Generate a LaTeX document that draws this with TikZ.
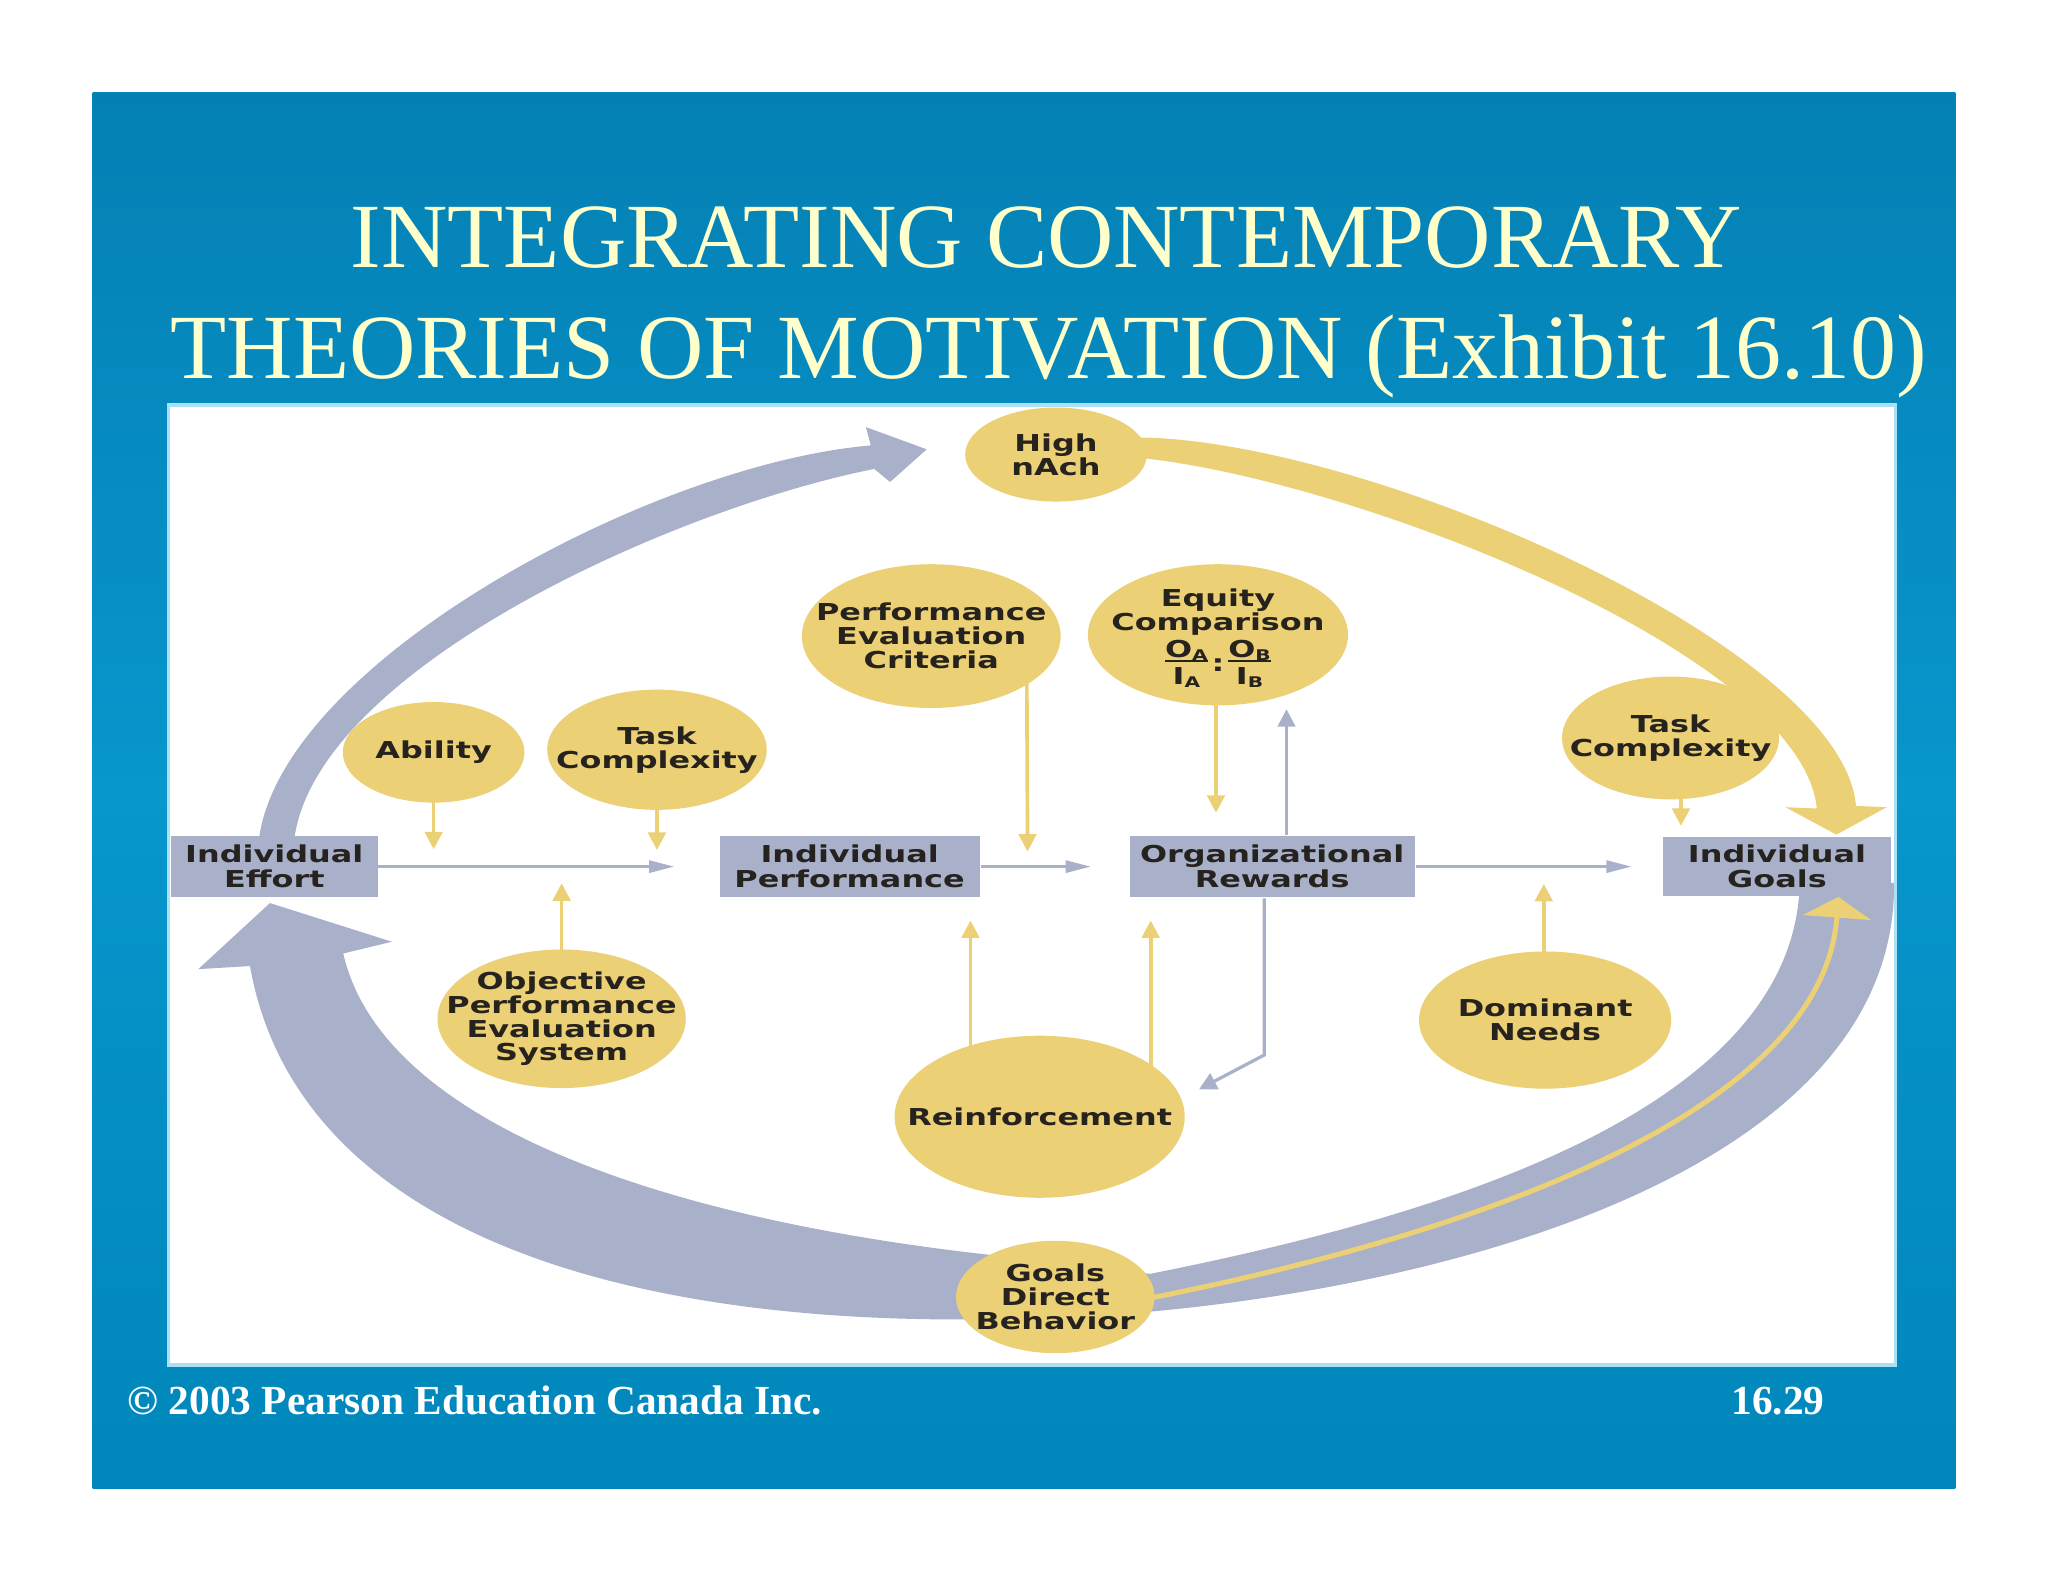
\documentclass[tikz,border=0pt]{standalone}
\usepackage{fontspec}
\setmainfont{Liberation Serif}
\newfontfamily\dfont{DejaVu Sans Bold}[FakeStretch=1.37]
\usetikzlibrary{shapes.geometric,arrows.meta,calc}
\definecolor{blueA}{RGB}{4,128,180}
\definecolor{blueB}{RGB}{8,150,204}
\definecolor{blueC}{RGB}{0,134,186}
\definecolor{titlecol}{RGB}{255,255,204}
\definecolor{yel}{RGB}{236,208,118}
\definecolor{gry}{RGB}{168,176,202}
\definecolor{txt}{RGB}{38,34,30}
\definecolor{paneledge}{RGB}{170,225,245}
\pgfdeclarelayer{back}
\pgfdeclarelayer{mid}
\pgfsetlayers{back,mid,main}
\newcommand{\subA}[1]{\raisebox{-0.6pt}{\fontsize{3.2}{3.2}\selectfont #1}}
\newcommand{\eqfrac}[1]{\begin{tabular}{@{}c@{}}O\subA{#1}\\[-0.9pt]\hline\noalign{\vskip1.1pt}I\subA{#1}\end{tabular}}
\begin{document}
\begin{tikzpicture}[x=0.01cm,y=-0.01cm,
  box/.style={fill=gry, inner sep=0pt, text=txt, font=\dfont\fontsize{5.07}{5.4}\selectfont, align=center},
  ell/.style={ellipse, fill=yel, inner sep=0pt},
  lab/.style={inner sep=0pt, text=txt, font=\dfont\fontsize{5.07}{5.2}\selectfont, align=center},
  garrh/.style={draw=gry, line width=0.7pt, -{Triangle[length=5.5pt,width=2.6pt]}},
  garrv/.style={draw=gry, line width=0.7pt, -{Triangle[length=3.8pt,width=3.8pt]}},
  yarr/.style={draw=yel, line width=0.8pt, -{Triangle[length=3.8pt,width=3.8pt]}},
]
\useasboundingbox (0,0) rectangle (1568,1211);

\begin{pgfonlayer}{back}
\fill[white] (0,0) rectangle (1568,1211);
\shade[top color=blueA, bottom color=blueC, middle color=blueB] (71,71) rectangle (1497,1140);
\fill[white, draw=paneledge, line width=0.7pt] (129,310) rectangle (1451,1045);
\end{pgfonlayer}

% titles and footer
\node[anchor=base, text=titlecol, font=\fontsize{20}{24}\selectfont, inner sep=0pt] (t1) at (801,205) {INTEGRATING CONTEMPORARY};
\node[anchor=base, text=titlecol, font=\fontsize{20}{24}\selectfont, inner sep=0pt] (t2) at (803,290) {THEORIES OF MOTIVATION (Exhibit 16.10)};
\node[anchor=base west, text=white, font=\bfseries\fontsize{9}{11}\selectfont, inner sep=0pt] (copy) at (97,1083) {© 2003 Pearson Education Canada Inc.};
\node[anchor=base west, text=white, font=\bfseries\fontsize{9}{11}\selectfont, inner sep=0pt] (pg) at (1325,1083) {16.29};

% boxes
\node[box, minimum width=1.58cm, minimum height=0.47cm] (effort) at (210,663.5) {Individual\\Effort};
\node[box, minimum width=1.99cm, minimum height=0.47cm] (perf) at (650.5,663.5) {Individual\\Performance};
\node[box, minimum width=2.18cm, minimum height=0.47cm] (rewards) at (974,663.5) {Organizational\\Rewards};
\node[box, minimum width=1.75cm, minimum height=0.45cm] (goals) at (1360.5,663.5) {Individual\\Goals};

% ellipses
\node[ell, minimum width=1.39cm, minimum height=0.72cm, label={[lab]center:{High\\nAch}}] (nach) at (808.5,348) {};
\node[ell, minimum width=1.98cm, minimum height=1.10cm, label={[lab]center:{Performance\\Evaluation\\Criteria}}] (pec) at (713,487) {};
\node[ell, minimum width=1.99cm, minimum height=1.08cm, label={[lab, yshift=-1.2pt]center:{Equity\\Comparison\\\eqfrac{A}\,:\,\eqfrac{B}}}] (equity) at (932.5,486) {};
\node[ell, minimum width=1.39cm, minimum height=0.77cm, label={[lab]center:{Ability}}] (ability) at (332,576) {};
\node[ell, minimum width=1.68cm, minimum height=0.92cm, label={[lab]center:{Task\\Complexity}}] (task1) at (503,574) {};
\node[ell, minimum width=1.66cm, minimum height=0.94cm, label={[lab]center:{Task\\Complexity}}] (task2) at (1279,565) {};
\node[ell, minimum width=1.90cm, minimum height=1.06cm, label={[lab]center:{Objective\\Performance\\Evaluation\\System}}] (ope) at (430,780) {};
\node[ell, minimum width=2.22cm, minimum height=1.24cm, label={[lab]center:{Reinforcement}}] (reinf) at (796,855) {};
\node[ell, minimum width=1.93cm, minimum height=1.05cm, label={[lab]center:{Dominant\\Needs}}] (dom) at (1183,781) {};
\node[ell, minimum width=1.52cm, minimum height=0.86cm, label={[lab]center:{Goals\\Direct\\Behavior}}] (gdb) at (808,993) {};

\begin{pgfonlayer}{mid}
% band A: effort -> high nAch (gray)
\fill[gry] (197.5,655) .. controls (197.5,518) and (492,356) .. (666.7,341)
  -- (663,327) -- (709.5,344) -- (681.5,369) -- (669.3,359)
  .. controls (505,392) and (224.5,522) .. (224.5,655) -- cycle;
% band B: high nAch -> goals (yellow)
\fill[yel] (850,335) -- (877,335) .. controls (1055,340) and (1411,497) .. (1421,617)
  -- (1444.5,618) -- (1406,639) -- (1367,618) -- (1391,619)
  .. controls (1380,503) and (1045,370) .. (877,351) -- (850,351) -- cycle;
% band C: goals -> goals direct behavior -> effort (gray)
\fill[gry] (151.8,742) -- (206.7,691.4) -- (300,721) -- (262.8,730)
  .. controls (290,850) and (480,930) .. (760,961)
  -- (880.5,975.3)
  .. controls (1105,930.7) and (1365.6,851.2) .. (1377.6,683.8)
  -- (1377.6,676) -- (1450,676) -- (1450,686)
  .. controls (1440,930) and (1000,1010) .. (760,1010)
  .. controls (450,1015) and (225,930) .. (191.4,739.6) -- cycle;
% yellow line inside band C
\draw[yel, line width=1.1pt, -{Triangle[length=4.5pt,width=14.8pt]}] (gdb.center) -- (gdb.east)
  .. controls (1100,950) and (1395,860) .. ($(goals.south)+(47,0)$);

% thin connectors
\draw[garrh] (effort.east) -- ($(perf.west)+(-34,0)$);
\draw[garrh] (perf.east) -- ($(rewards.west)+(-29,0)$);
\draw[garrh] (rewards.east) -- ($(goals.west)+(-23,0)$);
\draw[yarr] (ability.center) -- ($(ability.south)+(0,35)$);
\draw[yarr] (task1.center) -- ($(task1.south)+(0,30)$);
\draw[yarr] ($(pec.center)+(73,0)$) -- ($(perf.east)+(36,-11.5)$);
\draw[yarr] ($(equity.center)+(-1.5,0)$) -- ($(rewards.north)+(-43,-17)$);
\draw[garrv] ($(rewards.north)+(11,0)$) -- ($(equity.center)+(52.5,57)$);
\draw[garrv] ($(rewards.south)+(-6,0)$) -- ($(rewards.south)+(-6,120)$) -- ($(reinf.center)+(122,-21)$);
\draw[yarr] ($(reinf.center)+(-53,0)$) -- ($(perf.south)+(92.5,17)$);
\draw[yarr] ($(reinf.center)+(85,0)$) -- ($(rewards.south)+(-93,17)$);
\draw[yarr] (ope.center) -- ($(ope.north)+(0,-50)$);
\draw[yarr] ($(dom.center)+(-1,0)$) -- ($(dom.north)+(-1,-51)$);
\draw[yarr] ($(task2.center)+(8,0)$) -- ($(goals.north)+(-73.5,-8)$);
\end{pgfonlayer}
\end{tikzpicture}
\end{document}
